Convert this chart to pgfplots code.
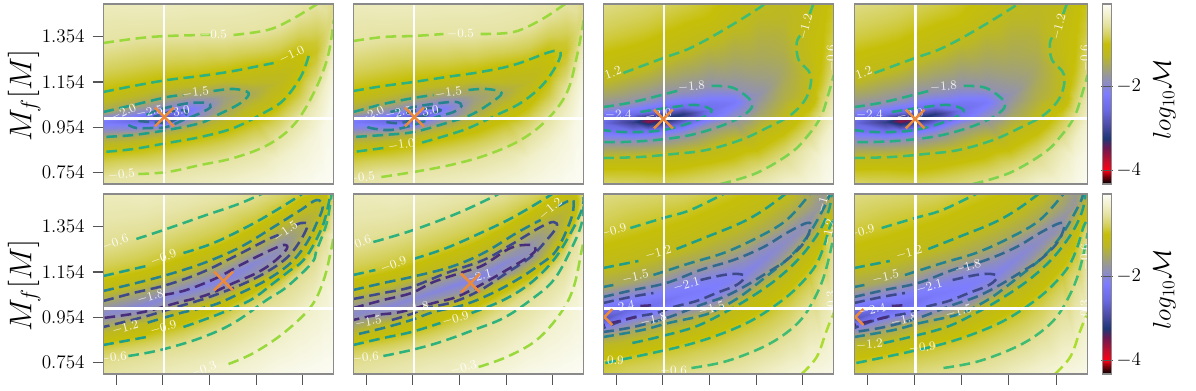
\RequirePackage{fix-cm}
\documentclass[border=0pt]{standalone}
\usepackage{pgfplots}
\pgfplotsset{compat=1.18}
\definecolor{frm}{HTML}{8A8A8A}
\definecolor{tck}{HTML}{555555}
\definecolor{crs}{HTML}{EC8A3C}
\definecolor{La}{HTML}{9AD93C}
\definecolor{Lb}{HTML}{2DB27D}
\definecolor{Lc}{HTML}{1F9E89}
\definecolor{Ld}{HTML}{26828E}
\definecolor{Le}{HTML}{31688E}
\definecolor{Lf}{HTML}{3E4989}
\definecolor{Lg}{HTML}{472D7B}
\definecolor{Lh}{HTML}{7ED34F}
\definecolor{Li}{HTML}{3FBC73}
\definecolor{Lj}{HTML}{26AD81}
\definecolor{Lk}{HTML}{ADDC30}
\pgfplotsset{
  colormap={mm}{rgb255(0cm)=(0,0,0); rgb255(0.18cm)=(120,0,10); rgb255(0.33cm)=(255,0,20);
    rgb255(0.57cm)=(190,15,45); rgb255(0.88cm)=(105,25,85); rgb255(1.09cm)=(30,55,120);
    rgb255(1.40cm)=(75,75,165); rgb255(1.76cm)=(105,105,225); rgb255(2.16cm)=(125,125,255);
    rgb255(2.33cm)=(135,135,215); rgb255(2.59cm)=(150,150,160); rgb255(2.83cm)=(168,168,95);
    rgb255(3.07cm)=(188,184,35); rgb255(3.35cm)=(198,191,8); rgb255(3.54cm)=(211,207,85);
    rgb255(3.78cm)=(227,224,154); rgb255(4.02cm)=(240,239,200); rgb255(4.30cm)=(252,252,245)},
  panel/.style={scale only axis, width=172.8pt, height=135pt, anchor=south west,
    xmin=0, xmax=230, ymin=0, ymax=180, axis on top, colormap name=mm,
    point meta min=-4.33, point meta max=-0.03,
    axis line style={frm, line width=0.8pt},
    tick align=outside, major tick length=8pt,
    tick style={tck, line width=0.8pt},
    xtick=\empty, ytick=\empty, xtick pos=lower, ytick pos=left,
    tick label style={font=\fontsize{14.4}{16}\selectfont},
    yticklabel style={xshift=-2.5pt},
    every axis y label/.style={at={(axis description cs:-0.344,0.49)}, rotate=90, anchor=center, font=\fontsize{23.5}{28}\selectfont}},
  yleft/.style={ytick={11.7,56.7,102,147.3}, yticklabels={0.754,0.954,1.154,1.354}, ylabel={$M_f[M]$}},
  xbot/.style={xtick={13,59.5,106,152.5,199}, xticklabels={}},
  cbar/.style={colorbar, colorbar shift/.style={xshift=11pt},
    colorbar style={width=6.9pt, height=135pt, ytick={-2,-4}, yticklabel pos=right,
      axis line style={frm, line width=0.8pt}, major tick length=8pt,
      tick style={tck, line width=0.8pt},
      tick label style={font=\fontsize{14.4}{16}\selectfont},
      yticklabel style={xshift=0pt},
      every axis y label/.style={at={(axis description cs:6.7,0.47)}, rotate=90, anchor=center, font=\fontsize{19}{23}\selectfont},
      ylabel={$log_{10}\mathcal{M}$}}},
  ct/.style={smooth, tension=0.6, line width=1.9pt, dash pattern=on 8pt off 4.2pt}
}
\newcommand{\ct}[2]{\addplot[ct,#1] coordinates {#2};}
\newcommand{\lb}[4]{\node[white,opacity=0.9,inner sep=0pt,font=\fontsize{9.5}{10}\selectfont,rotate=#3] at (axis cs:#1,#2) {$#4$};}
\newcommand{\wl}{
  \addplot[white,line width=1.6pt] coordinates {(60.4,0)(60.4,180)};
  \addplot[white,line width=1.6pt] coordinates {(0,65.5)(230,65.5)};}
\newcommand{\cross}[2]{\addplot[only marks,mark=x,mark size=10pt,mark options={crs,line width=1.9pt}] coordinates {(#1,#2)};}
% the cross of the last two panels sits on the axis edge and has to be clipped
\newcommand{\crossedge}{
  \addplot[crs,line width=1.9pt] coordinates {(-7,49)(9,65)};
  \addplot[crs,line width=1.9pt] coordinates {(-7,65)(9,49)};}
% background meshes: one line per column, (x,y)[log10 M]
\newcommand{\meshA}{\addplot[surf,shader=interp,point meta=explicit,mesh/ordering=y varies,mesh/rows=11,mesh/cols=11] coordinates {
(0,0)[-.47](0,4)[-.5](0,32)[-1](0,47)[-1.5](0,56)[-2.05](0,62)[-2.25](0,66)[-2.05](0,72)[-1.5](0,92)[-1](0,141)[-.5](0,180)[-.37]
(30,0)[-.45](30,10)[-.5](30,35)[-1](30,49)[-1.5](30,56)[-2](30,63)[-2.5](30,70)[-2](30,79)[-1.5](30,98)[-1](30,147)[-.5](30,180)[-.36]
(60,0)[-.4](60,12)[-.5](60,40)[-1](60,53)[-1.5](60,57)[-2](60,66)[-2.9](60,75)[-2](60,86)[-1.5](60,104)[-1](60,149)[-.5](60,180)[-.36]
(90,0)[-.35](90,18)[-.5](90,46)[-1](90,60)[-1.5](90,68)[-2](90,75)[-2.2](90,80)[-2](90,91)[-1.5](90,107)[-1](90,149)[-.5](90,180)[-.38]
(120,0)[-.3](120,23)[-.5](120,53)[-1](120,72)[-1.5](120,80)[-1.58](120,85)[-1.62](120,89)[-1.58](120,95)[-1.5](120,112)[-1](120,149)[-.5](120,180)[-.38]
(150,0)[-.22](150,33)[-.5](150,65)[-1](150,82)[-1.3](150,88)[-1.42](150,91)[-1.45](150,94)[-1.42](150,100)[-1.3](150,118)[-1](150,152)[-.5](150,180)[-.4]
(175,0)[-.15](175,25)[-.3](175,46)[-.5](175,66)[-.8](175,80)[-1](175,95)[-1.18](175,102)[-1.25](175,110)[-1.18](175,122)[-1](175,159)[-.5](175,180)[-.42]
(195,0)[-.1](195,35)[-.25](195,66)[-.5](195,90)[-.85](195,108)[-1](195,118)[-1.05](195,126)[-1](195,140)[-.9](195,155)[-.7](195,172)[-.5](195,180)[-.47]
(212,0)[-.06](212,50)[-.2](212,80)[-.38](212,94)[-.5](212,110)[-.72](212,122)[-.85](212,132)[-.92](212,142)[-.88](212,155)[-.75](212,168)[-.62](212,180)[-.5]
(222,0)[-.04](222,60)[-.12](222,100)[-.3](222,120)[-.5](222,130)[-.6](222,140)[-.68](222,148)[-.7](222,155)[-.68](222,163)[-.62](222,172)[-.55](222,180)[-.55]
(230,0)[-.03](230,100)[-.13](230,130)[-.27](230,150)[-.4](230,164)[-.5](230,170)[-.55](230,174)[-.58](230,177)[-.6](230,178)[-.62](230,179)[-.63](230,180)[-.65]
};}
\newcommand{\meshC}{\addplot[surf,shader=interp,point meta=explicit,mesh/ordering=y varies,mesh/rows=11,mesh/cols=12] coordinates {
(0,0)[-.72](0,12)[-.92](0,26)[-1.2](0,42)[-1.8](0,54)[-2.4](0,61)[-2.55](0,68)[-2.4](0,77)[-1.8](0,105)[-1.2](0,145)[-.85](0,180)[-.62]
(30,0)[-.75](30,14)[-.95](30,27)[-1.2](30,42)[-1.8](30,52)[-2.4](30,62)[-3.1](30,71)[-2.4](30,82)[-1.8](30,114)[-1.2](30,150)[-.88](30,180)[-.68]
(45,0)[-.76](45,14)[-.97](45,28)[-1.2](45,43)[-1.8](45,53)[-2.4](45,63)[-3.6](45,73)[-2.4](45,85)[-1.8](45,118)[-1.2](45,155)[-.88](45,180)[-.72]
(60,0)[-.76](60,15)[-1](60,29)[-1.2](60,45)[-1.8](60,55)[-2.4](60,65)[-3.4](60,75)[-2.4](60,90)[-1.8](60,126)[-1.2](60,160)[-.9](60,180)[-.76]
(80,0)[-.72](80,16)[-.97](80,31)[-1.2](80,49)[-1.8](80,59)[-2.4](80,70)[-3.2](80,78)[-2.4](80,93)[-1.8](80,133)[-1.2](80,165)[-.93](80,180)[-.82]
(105,0)[-.65](105,18)[-.92](105,35)[-1.2](105,59)[-1.8](105,67)[-2.35](105,74)[-2.42](105,80)[-2.35](105,98)[-1.8](105,145)[-1.2](105,165)[-1](105,180)[-.92]
(130,0)[-.55](130,22)[-.9](130,44)[-1.2](130,65)[-1.8](130,75)[-2.1](130,82)[-2.25](130,88)[-2.1](130,96)[-1.8](130,120)[-1.55](130,160)[-1.2](130,180)[-1.05]
(155,0)[-.42](155,12)[-.6](155,30)[-.9](155,52)[-1.2](155,72)[-1.6](155,85)[-1.75](155,90)[-1.8](155,95)[-1.75](155,105)[-1.65](155,125)[-1.5](155,180)[-1.19]
(180,0)[-.28](180,25)[-.6](180,45)[-.9](180,65)[-1.2](180,85)[-1.4](180,100)[-1.47](180,110)[-1.5](180,120)[-1.48](180,135)[-1.4](180,160)[-1.3](180,180)[-1.25]
(205,0)[-.2](205,35)[-.4](205,47)[-.6](205,70)[-.9](205,87)[-1.2](205,105)[-1.22](205,118)[-1.2](205,130)[-1.1](205,150)[-1.08](205,170)[-1.12](205,180)[-1.2]
(218,0)[-.13](218,25)[-.2](218,45)[-.33](218,70)[-.6](218,85)[-.75](218,100)[-.88](218,115)[-.95](218,130)[-.98](218,150)[-1](218,168)[-1.02](218,180)[-1.02]
(230,0)[-.05](230,30)[-.12](230,60)[-.25](230,85)[-.42](230,109)[-.6](230,120)[-.68](230,130)[-.72](230,140)[-.78](230,155)[-.85](230,170)[-.9](230,180)[-.95]
};}
\newcommand{\meshE}{\addplot[surf,shader=interp,point meta=explicit,mesh/ordering=y varies,mesh/rows=13,mesh/cols=10] coordinates {
(0,0)[-.5](0,6)[-.55](0,13)[-.6](0,29)[-.9](0,39)[-1.2](0,55.7)[-1.8](0,60)[-1.95](0,64.7)[-1.8](0,83)[-1.2](0,98)[-.9](0,126)[-.6](0,155)[-.45](0,180)[-.37]
(40,0)[-.43](40,10)[-.5](40,21)[-.6](40,36)[-.9](40,50)[-1.2](40,62)[-1.8](40,69)[-2](40,74)[-1.8](40,92)[-1.2](40,107)[-.9](40,137)[-.6](40,160)[-.45](40,180)[-.35]
(80,0)[-.34](80,15)[-.45](80,31)[-.6](80,47)[-.9](80,63)[-1.2](80,75)[-1.8](80,82)[-2.03](80,88)[-1.8](80,104)[-1.2](80,121)[-.9](80,151)[-.6](80,168)[-.47](80,180)[-.39]
(120,0)[-.28](120,8)[-.3](120,46)[-.6](120,64)[-.9](120,75)[-1.2](120,87)[-1.8](120,95)[-2.08](120,102)[-1.8](120,119)[-1.2](120,135)[-.9](120,166)[-.6](120,174)[-.52](120,180)[-.47]
(150,0)[-.18](150,21)[-.3](150,64)[-.6](150,80)[-.9](150,92)[-1.2](150,100)[-1.8](150,111)[-2](150,116)[-1.8](150,135)[-1.2](150,151)[-.9](150,176)[-.6](150,178)[-.59](150,180)[-.58]
(175,0)[-.1](175,37)[-.3](175,82)[-.6](175,94)[-.9](175,102)[-1.2](175,117)[-1.8](175,123)[-1.85](175,129)[-1.8](175,151)[-1.2](175,165)[-.9](175,172)[-.8](175,177)[-.75](175,180)[-.72]
(195,0)[-.07](195,55)[-.3](195,100)[-.6](195,110)[-.9](195,118)[-1.2](195,130)[-1.45](195,140)[-1.55](195,150)[-1.45](195,163)[-1.2](195,178)[-.9](195,179)[-.88](195,179.5)[-.86](195,180)[-.85]
(210,0)[-.05](210,72)[-.3](210,115)[-.6](210,130)[-.9](210,143)[-1.2](210,150)[-1.28](210,157)[-1.32](210,164)[-1.28](210,172)[-1.2](210,176)[-1.1](210,178)[-1.05](210,179)[-1.02](210,180)[-1]
(220,0)[-.04](220,94)[-.3](220,140)[-.6](220,150)[-.9](220,160)[-1.1](220,167)[-1.2](220,170)[-1.22](220,173)[-1.2](220,176)[-1.15](220,177)[-1.12](220,178)[-1.1](220,179)[-1.08](220,180)[-1.05]
(230,0)[-.03](230,70)[-.1](230,140)[-.3](230,160)[-.42](230,170)[-.5](230,175)[-.55](230,176)[-.56](230,177)[-.57](230,178)[-.58](230,178.5)[-.59](230,179)[-.6](230,179.5)[-.6](230,180)[-.6]
};}
\newcommand{\meshG}{\addplot[surf,shader=interp,point meta=explicit,mesh/ordering=y varies,mesh/rows=13,mesh/cols=11] coordinates {
(0,0)[-.82](0,5)[-.86](0,11)[-.9](0,27)[-1.2](0,37)[-1.5](0,47)[-2.1](0,55)[-2.8](0,71)[-2.1](0,87)[-1.5](0,106)[-1.2](0,138)[-.9](0,160)[-.75](0,180)[-.62]
(25,0)[-.75](25,7)[-.8](25,16)[-.9](25,31)[-1.2](25,42)[-1.5](25,55)[-2.1](25,64)[-2.55](25,76)[-2.1](25,92)[-1.5](25,111)[-1.2](25,145)[-.9](25,165)[-.78](25,180)[-.66]
(50,0)[-.7](50,10)[-.78](50,21)[-.9](50,36)[-1.2](50,50)[-1.5](50,60)[-2.1](50,69)[-2.4](50,81)[-2.1](50,99)[-1.5](50,118)[-1.2](50,153)[-.9](50,168)[-.8](50,180)[-.7]
(80,0)[-.58](80,14)[-.75](80,28)[-.9](80,44)[-1.2](80,56)[-1.5](80,70)[-2.1](80,80)[-2.25](80,89)[-2.1](80,110)[-1.5](80,127)[-1.2](80,162)[-.9](80,172)[-.82](80,180)[-.75]
(110,0)[-.5](110,9)[-.6](110,36)[-.9](110,56)[-1.2](110,63)[-1.5](110,78)[-2.1](110,87)[-2.18](110,96)[-2.1](110,118)[-1.5](110,140)[-1.2](110,175)[-.9](110,178)[-.87](110,180)[-.85]
(140,0)[-.42](140,19)[-.6](140,49)[-.9](140,73)[-1.2](140,80)[-1.5](140,89)[-1.9](140,100)[-2.1](140,112)[-1.9](140,129)[-1.5](140,153)[-1.2](140,176)[-1](140,179)[-.97](140,180)[-.95]
(165,0)[-.3](165,30)[-.6](165,63)[-.9](165,88)[-1.2](165,99)[-1.5](165,110)[-1.85](165,120)[-2](165,130)[-1.85](165,143)[-1.5](165,167)[-1.2](165,175)[-1.13](165,178)[-1.1](165,180)[-1.08]
(185,0)[-.22](185,44)[-.6](185,79)[-.9](185,105)[-1.2](185,116)[-1.5](185,128)[-1.8](185,135)[-1.9](185,142)[-1.8](185,156)[-1.5](185,178)[-1.22](185,179)[-1.21](185,179.5)[-1.2](185,180)[-1.2]
(205,0)[-.16](205,70)[-.6](205,101)[-.9](205,128)[-1.2](205,138)[-1.5](205,147)[-1.78](205,155)[-1.8](205,163)[-1.65](205,170)[-1.55](205,176)[-1.5](205,178)[-1.5](205,179)[-1.5](205,180)[-1.5]
(218,0)[-.14](218,28)[-.3](218,92)[-.6](218,122)[-.9](218,147)[-1.2](218,162)[-1.5](218,170)[-1.7](218,175)[-1.72](218,177)[-1.7](218,178)[-1.68](218,179)[-1.68](218,179.5)[-1.68](218,180)[-1.68]
(230,0)[-.1](230,30)[-.2](230,61)[-.3](230,141)[-.6](230,154)[-.9](230,163)[-1.1](230,170)[-1.2](230,174)[-1.3](230,176)[-1.35](230,177)[-1.4](230,178)[-1.42](230,179)[-1.45](230,180)[-1.48]
};}
% contour lines
\newcommand{\conA}{
\ct{La}{(0,141)(47,147)(97,149)(107,149)}
\ct{La}{(130,149)(164,154)(187,164)(212,179)(215,181)}
\ct{La}{(35,10)(64,12)(97,19)(130,26)(164,39)(190,59)(210,91)(224,127)(230,164)}
\ct{Lb}{(0,92)(30,98)(64,104)(97,108)(130,113)(170,121)}
\ct{Lb}{(205,128)(197,107)(180,84)(160,71)(130,56)(97,47)(64,41)(30,35)(0,32)}
\ct{Lc}{(0,72)(30,79)(64,87)(80,89)}
\ct{Lc}{(110,93)(130,95)(145,91)(137,81)(114,69)(97,61)(64,54)(30,49)(0,47)}
\ct{Ld}{(43,69)(55,74)(70,78)(87,81)(103,81)(107,77)(97,71)(80,64)(63,57)(47,56)(33,56)(25,59)}
\ct{Le}{(35,63)(47,62)(63,61)(73,65)(82,69)(83,73)(75,74)(63,71)(50,67)}
}
\newcommand{\conB}{
\ct{La}{(0,143)(30,147)(60,148)(90,150)}
\ct{La}{(127,150)(160,152)(187,164)(210,179)(213,181)}
\ct{La}{(28,7)(60,12)(97,19)(133,29)(167,44)(193,64)(213,91)(223,127)(230,164)}
\ct{Lb}{(0,93)(30,98)(60,102)(93,107)(127,112)(160,119)(193,131)(203,133)(207,129)(200,114)(187,97)(167,81)(143,69)(110,54)(67,41)}
\ct{Lb}{(30,36)(0,32)}
\ct{Lc}{(0,72)(30,80)(60,86)(80,89)}
\ct{Lc}{(115,94)(133,95)(148,91)(137,81)(117,69)(93,61)(60,52)(30,49)(0,47)}
\ct{Ld}{(37,72)(60,77)(87,81)(103,82)(108,78)(100,72)(83,67)(60,59)(37,54)(17,56)(12,59)}
\ct{Le}{(33,62)(47,61)(67,67)(83,72)(87,74)(75,76)(60,73)(45,68)}
}
\newcommand{\conC}{
\ct{Lh}{(117,0)(153,11)(187,31)(203,47)(217,67)(225,91)(230,109)}
\ct{Li}{(0,26)(36,27)(70,30)(103,34)(137,44)(163,56)(187,69)(203,87)(207,109)(195,124)(193,141)(197,149)}
\ct{Li}{(206,170)(210,181)}
\ct{Li}{(20,111)(60,126)(87,136)(120,154)(157,177)(160,181)}
\ct{Lj}{(0,77)(30,82)(77,94)}
\ct{Lj}{(108,98)(130,96)(148,82)(143,71)(120,59)(87,49)(53,44)(20,42)(0,42)}
\ct{Lc}{(37,72)(70,77)(93,79)(108,74)(100,67)(80,59)(53,53)(20,52)(0,54)}
}
\newcommand{\conE}{
\ct{La}{(125,10)(150,21)(180,41)(207,67)(220,94)(228,127)(230,140)}
\ct{Lb}{(25,18)(57,24)(97,36)(130,51)(163,74)(183,87)(208,111)(213,124)(223,151)(228,181)}
\ct{Lb}{(33,135)(63,145)(100,158)(135,170)(160,181)}
\ct{Lc}{(0,98)(43,108)}
\ct{Lc}{(80,121)(110,131)(147,149)(173,164)(197,179)(199,181)}
\ct{Lc}{(0,29)(43,37)}
\ct{Lc}{(80,47)(113,59)(147,74)(170,91)(187,104)(197,111)(207,124)(220,151)(227,181)}
\ct{Ld}{(0,83)(37,92)(70,101)(103,112)(137,127)(170,147)(197,164)(213,174)(219,167)(213,151)(203,131)(187,111)(163,94)(137,81)(110,69)(77,61)(43,51)}
\ct{Lf}{(0,73)(30,81)(63,89)(97,101)(130,117)(163,134)(175,139)}
\ct{Lf}{(192,149)(198,151)(204,149)(197,134)(184,117)(163,102)(137,89)(103,76)(70,66)(40,57)(0,47)}
\ct{Lg}{(60,79)(83,84)(113,96)(137,109)(163,122)(180,129)(183,125)(170,112)(153,101)(130,91)(103,79)(73,71)(40,62)(0,56)}
}
\newcommand{\conF}{
\ct{La}{(125,7)(153,17)(183,34)(207,61)(220,87)(228,124)(230,134)}
\ct{Lb}{(30,18)(58,24)(87,32)(120,44)(150,56)(177,74)(200,94)(217,124)(228,151)(230,177)}
\ct{Lb}{(20,132)(60,144)(107,162)(147,181)}
\ct{Lc}{(0,99)(22,104)}
\ct{Lc}{(60,115)(93,126)(127,141)(160,157)(197,179)(199,181)}
\ct{Lc}{(0,29)(30,36)(58,42)(87,51)}
\ct{Lc}{(118,61)(150,74)(177,91)(200,114)(217,141)(228,164)(230,177)}
\ct{Ld}{(0,84)(30,91)(58,97)(97,107)(130,121)(163,141)(187,154)}
\ct{Ld}{(205,168)(217,174)(220,171)(217,154)(203,124)(187,110)(163,94)(137,80)(110,69)(80,62)(58,54)(30,46)(5,40)}
\ct{Lf}{(0,75)(30,81)(58,87)(93,101)(130,114)(157,129)(187,147)(200,152)(203,147)(193,134)(177,117)(153,101)(127,84)(100,72)(73,66)(58,60)(35,53)}
\ct{Lg}{(0,66)(30,74)(58,81)(80,92)(110,102)(130,109)(157,126)(177,129)(182,124)(173,116)(153,104)(127,89)(103,77)(80,71)(47,62)(23,59)(0,54)}
}
\newcommand{\conG}{
\ct{Lk}{(198,0)(213,17)(222,41)(227,54)(230,61)}
\ct{Li}{(88,6)(120,12)(153,24)(177,37)(197,54)(210,74)(220,97)(227,124)(230,141)}
\ct{Lj}{(27,146)(60,156)(87,164)(122,181)}
\ct{Lj}{(2,11)(49,21)(87,30)(120,41)(149,54)(175,71)(194,87)(211,107)(220,127)(226,147)(230,154)}
\ct{Lc}{(0,106)(35,113)}
\ct{Lc}{(73,125)(103,137)(137,151)(160,164)(183,181)}
\ct{Lc}{(29,31)(55,37)(91,47)(120,61)(146,76)(172,94)(194,114)(210,134)(220,151)(226,167)(228,181)}
\ct{Ld}{(0,87)(10,89)}
\ct{Ld}{(50,99)(87,111)(120,121)(153,136)(183,154)(207,181)}
\ct{Ld}{(0,37)(39,44)(65,51)(97,58)(113,64)(136,77)(162,97)(185,116)(201,134)(212,151)(224,174)(225,181)}
\ct{Le}{(0,77)(30,84)(63,91)(97,104)(130,114)(160,127)(183,141)(203,151)(207,147)(200,131)(183,114)(163,101)(140,87)(120,77)(97,69)(63,56)(30,47)(0,42)}
\ct{Lf}{(0,71)(27,77)(50,81)}
\ct{Lf}{(97,94)(120,99)(135,100)(141,97)(133,89)(113,81)(93,73)(70,67)(53,61)(27,56)(0,46)}
\ct{Lg}{(37,68)(53,69)}
\ct{Lg}{(33,57)(12,52)(0,49)}
}
\begin{document}
\begin{tikzpicture}
\useasboundingbox (0,0) rectangle (897pt,292.5pt);
% top row
\begin{axis}[panel,yleft,at={(77.5pt,154.5pt)}]
\meshA \conA \wl \cross{61}{67}
\lb{110}{149}{0}{-0.5}\lb{188}{129}{25}{-1.0}\lb{92}{91}{8}{-1.5}\lb{20}{71}{25}{-2.0}\lb{46}{72}{10}{-2.5}\lb{73}{72}{10}{-3.0}\lb{18}{9}{5}{-0.5}
\end{axis}
\begin{axis}[panel,at={(265pt,154.5pt)}]
\meshA \conB \wl \cross{61}{67}
\lb{107}{150}{0}{-0.5}\lb{95}{91}{8}{-1.5}\lb{18}{69}{25}{-2.0}\lb{45}{71}{10}{-2.5}\lb{72}{72}{10}{-3.0}\lb{48}{39}{8}{-1.0}\lb{8}{6}{5}{-0.5}
\end{axis}
\begin{axis}[panel,at={(452.5pt,154.5pt)}]
\meshC \conC \wl \cross{60}{65}
\lb{5}{109}{20}{-1.2}\lb{88}{97}{5}{-1.8}\lb{15}{69}{0}{-2.4}\lb{55}{69}{10}{-3.0}\lb{202}{157}{75}{-1.2}\lb{228}{126}{90}{-0.6}
\end{axis}
\begin{axis}[panel,cbar,width=174.9pt,at={(640.7pt,154.5pt)}]
\meshC \conC \wl \cross{60}{65}
\lb{5}{109}{20}{-1.2}\lb{88}{97}{5}{-1.8}\lb{15}{69}{0}{-2.4}\lb{55}{69}{10}{-3.0}\lb{202}{157}{75}{-1.2}\lb{228}{126}{90}{-0.6}
\end{axis}
% bottom row
\begin{axis}[panel,yleft,xbot,at={(77.5pt,12pt)}]
\meshE \conE \wl \cross{120}{93}
\lb{12}{131}{20}{-0.6}\lb{60}{116}{20}{-0.9}\lb{182}{142}{35}{-1.5}\lb{47}{77}{15}{-1.8}\lb{22}{46}{15}{-1.2}\lb{60}{46}{15}{-0.9}\lb{10}{16}{5}{-0.6}\lb{100}{4}{20}{-0.3}
\end{axis}
\begin{axis}[panel,xbot,at={(265pt,12pt)}]
\meshE \conF \wl \cross{117}{91}
\lb{5}{130}{20}{-0.6}\lb{40}{109}{20}{-0.9}\lb{197}{165}{40}{-1.2}\lb{125}{97}{15}{-2.1}\lb{62}{66}{10}{-1.8}\lb{15}{52}{10}{-1.5}\lb{102}{55}{15}{-0.9}\lb{12}{16}{5}{-0.6}\lb{110}{6}{15}{-0.3}
\end{axis}
\begin{axis}[panel,xbot,at={(452.5pt,12pt)}]
\meshG \conG \wl \crossedge
\lb{10}{143}{15}{-0.9}\lb{55}{121}{15}{-1.2}\lb{32}{97}{12}{-1.5}\lb{83}{89}{15}{-2.1}\lb{18}{67}{10}{-2.4}\lb{50}{54}{12}{-1.8}\lb{108}{65}{15}{-1.5}\lb{7}{13}{0}{-0.9}\lb{70}{3}{0}{-0.6}\lb{220}{174}{75}{-1.2}\lb{225}{141}{80}{-1.2}\lb{228}{70}{90}{-0.3}
\end{axis}
\begin{axis}[panel,xbot,cbar,width=174.9pt,at={(640.7pt,12pt)}]
\meshG \conG \wl \crossedge
\lb{7}{142}{15}{-0.9}\lb{54}{121}{15}{-1.2}\lb{31}{97}{12}{-1.5}\lb{112}{107}{15}{-1.8}\lb{74}{87}{15}{-2.1}\lb{18}{64}{10}{-2.4}\lb{49}{54}{12}{-1.8}\lb{103}{62}{15}{-1.5}\lb{15}{29}{5}{-1.2}\lb{67}{26}{5}{-0.9}\lb{228}{117}{90}{-0.6}\lb{228}{61}{90}{-0.3}
\end{axis}
\end{tikzpicture}
\end{document}
